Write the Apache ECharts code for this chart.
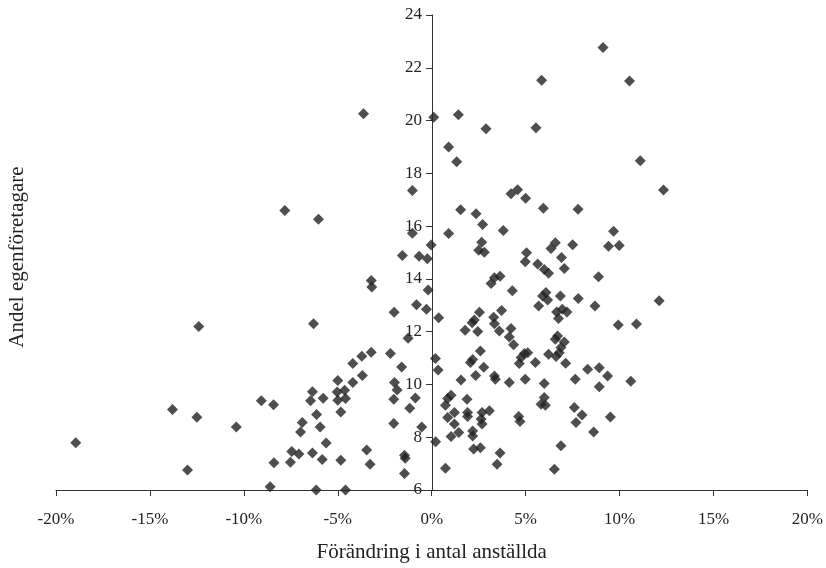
<!DOCTYPE html>
<html><head><meta charset="utf-8">
<script src="https://cdn.jsdelivr.net/npm/echarts@6/dist/echarts.min.js"></script>
<style>html,body{margin:0;padding:0;background:#fff}#c{width:826px;height:568px}</style>
</head><body><div id="c"></div>
<script>
const xAxisTitle = "Förändring i antal anställda";
const yAxisTitle = "Andel egenföretagare";
const xTicks = [-20, -15, -10, -5, 0, 5, 10, 15, 20];
const yTicks = [6, 8, 10, 12, 14, 16, 18, 20, 22, 24];

// [change in employees (%), share of self-employed]
const pointsLeft = [
  [-12.4,12.2],[-13.8,9.05],[-12.5,8.76],[-10.4,8.39],[-18.95,7.79],[-13.0,6.76],
  [-3.63,20.26],[-1.03,17.35],[-7.82,16.59],[-6.03,16.26],[-1.03,15.73],[-0.03,15.28],
  [-1.56,14.89],[-0.67,14.86],[-0.23,14.76],[-3.22,13.94],[-3.19,13.69],[-0.19,13.58],
  [-0.81,13.02],[-0.28,12.85],[-2.0,12.74],[-6.29,12.3],
  [-1.26,11.75],[-3.22,11.22],[-2.2,11.17],[-3.72,11.07],[-4.2,10.79],[-1.6,10.66],
  [-3.69,10.34],[-5.0,10.15],[-4.2,10.07],[-1.98,10.07],[-1.84,9.79],[-6.35,9.72],
  [-5.03,9.71],[-4.64,9.78],[-9.07,9.38],[-8.42,9.23],[-6.45,9.38],[-5.78,9.48],
  [-5.0,9.40],[-4.59,9.47],[-2.02,9.44],[-0.87,9.49],[-1.17,9.10],[-4.84,8.96],
  [-6.13,8.86],[-6.89,8.56],[-5.94,8.39],[-6.98,8.20],[-2.02,8.52],[-0.53,8.39],
  [-5.62,7.78],[-7.45,7.46],[-7.07,7.36],[-6.35,7.40],[-3.46,7.52],[-8.4,7.03],
  [-7.52,7.05],[-5.83,7.16],[-4.84,7.13],[-3.28,6.98],[-1.45,7.32],[-1.41,7.20],
  [-1.45,6.63],[-8.6,6.12],[-6.15,6.0],[-4.59,6.0]
];
const pointsRight = [
  [0.11,20.13],[0.37,12.53],[0.2,10.98],[0.34,10.55],[0.21,7.83],
  [5.85,21.53],[9.12,22.77],[10.53,21.5],
  [1.42,20.22],[2.89,19.69],[5.55,19.73],[0.9,19.0],[1.33,18.44],[4.22,17.23],
  [4.57,17.38],[5.0,17.06],[5.94,16.68],[7.79,16.64],[1.54,16.62],[2.36,16.47],
  [2.71,16.06],[0.9,15.72],[3.81,15.83],[9.68,15.81],[2.66,15.39],[2.5,15.09],
  [2.8,15.01],[6.58,15.37],[6.35,15.15],[7.5,15.29],[9.41,15.24],[9.98,15.27],
  [5.05,14.99],[6.91,14.81],[4.98,14.65],[5.64,14.56],[5.99,14.36],[6.22,14.21],
  [7.06,14.39],[3.34,14.04],[3.64,14.1],[8.88,14.08],
  [3.16,13.83],[4.29,13.55],[6.08,13.48],[5.9,13.35],[6.17,13.2],[6.85,13.35],
  [7.8,13.26],[5.69,12.97],[8.69,12.97],[6.65,12.75],[6.95,12.85],[7.2,12.75],
  [6.75,12.5],[3.72,12.8],[2.54,12.74],[2.27,12.44],[2.15,12.34],[3.3,12.55],
  [9.93,12.25],[3.34,12.3],[3.6,12.03],[1.78,12.05],[2.45,12.01],[4.22,12.12],
  [4.13,11.8],[4.36,11.5],[6.7,11.84],[6.58,11.71],[7.06,11.61],[6.88,11.4],
  [6.79,11.2],[6.62,11.06],[6.22,11.14],[2.59,11.27],[4.93,11.17],[5.11,11.2],
  [4.76,11.02],[4.66,10.79],[2.18,10.95],[2.06,10.83],[5.52,10.83],[7.13,10.8],
  [2.77,10.65],[8.3,10.58],[8.92,10.63],[9.36,10.32],[2.34,10.34],[1.56,10.17],
  [3.34,10.32],[3.39,10.2],[4.13,10.07],[4.98,10.2],[5.99,10.04],[7.64,10.2],
  [8.92,9.91],[10.6,10.12],
  [1.03,9.59],[0.85,9.47],[0.73,9.21],[1.88,9.44],[5.99,9.51],[5.82,9.25],
  [6.05,9.21],[7.59,9.13],[8.0,8.84],[9.51,8.77],[1.21,8.94],[0.85,8.75],
  [1.91,8.94],[1.91,8.79],[2.68,8.94],[3.07,9.0],[2.63,8.69],[2.68,8.5],
  [4.63,8.79],[4.70,8.6],[7.68,8.56],[8.62,8.2],[1.21,8.5],[1.44,8.18],
  [1.03,8.03],[2.18,8.24],[2.18,8.05],[6.88,7.68],[2.23,7.55],[2.59,7.6],
  [3.64,7.4],[3.48,6.98],[0.73,6.82],[6.53,6.79],
  [11.1,18.48],[12.34,17.37],[12.11,13.17],[10.9,12.29]
];

const font = '"Liberation Serif", "DejaVu Serif", serif';
const textColor = '#222';
const gridLeft = 56, gridRight = 18;
const plotWidth = 826 - gridLeft - gridRight;
const chart = echarts.init(document.getElementById('c'), null, {renderer: 'canvas'});
chart.setOption({
  animation: false,
  backgroundColor: '#fff',
  grid: {left: gridLeft, right: gridRight, top: 15, bottom: 77, containLabel: false},
  xAxis: {
    type: 'value',
    min: xTicks[0], max: xTicks[xTicks.length - 1], interval: 5,
    name: xAxisTitle, nameLocation: 'middle', nameGap: 52,
    nameTextStyle: {fontFamily: font, fontSize: 21, color: textColor},
    axisLine: {onZero: false, lineStyle: {color: '#333', width: 1}},
    axisTick: {show: true, inside: false, length: 6, lineStyle: {color: '#333'}},
    axisLabel: {formatter: '{value}%', margin: 21, fontFamily: font, fontSize: 17, color: textColor},
    splitLine: {show: false}
  },
  yAxis: {
    type: 'value', position: 'left',
    offset: -plotWidth * (0 - xTicks[0]) / (xTicks[xTicks.length - 1] - xTicks[0]),
    min: yTicks[0], max: yTicks[yTicks.length - 1], interval: 2,
    axisLine: {show: true, onZero: false, lineStyle: {color: '#333', width: 1}},
    axisTick: {show: true, inside: false, length: 6, lineStyle: {color: '#333'}},
    axisLabel: {margin: 10, fontFamily: font, fontSize: 17, color: textColor},
    splitLine: {show: false}
  },
  graphic: [{
    type: 'text', x: 17, y: 257, rotation: Math.PI / 2,
    style: {text: yAxisTitle, font: '21px ' + font, fill: textColor, textAlign: 'center', textVerticalAlign: 'middle'}
  }],
  series: [
    {type: 'scatter', data: pointsLeft, symbol: 'diamond', symbolSize: 11, clip: false,
     itemStyle: {color: '#222'}},
    {type: 'scatter', data: pointsRight, symbol: 'diamond', symbolSize: 11, clip: false,
     itemStyle: {color: '#222'}}
  ]
});
</script></body></html>
